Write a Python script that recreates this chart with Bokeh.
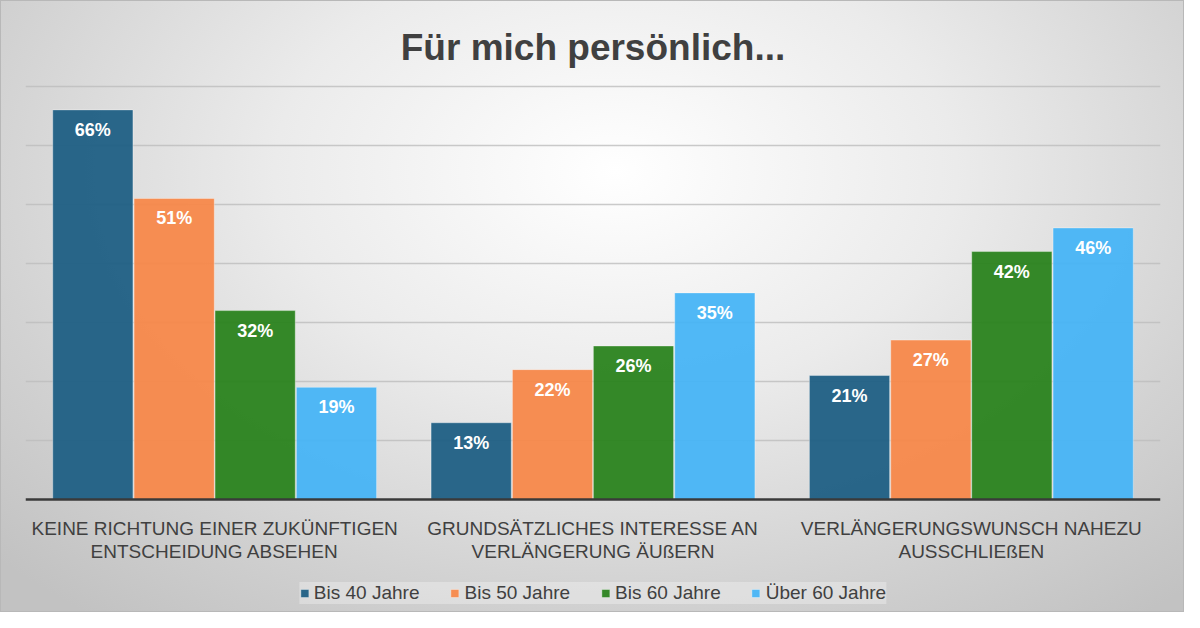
from bokeh.plotting import figure
from bokeh.models import (ColumnDataSource, FactorRange, Range1d, LabelSet, Legend,
                          LegendItem, CategoricalAxis)
from bokeh.transform import dodge
from bokeh.core.properties import value
from bokeh.embed import file_html
from bokeh.resources import INLINE

# === Data ===
# category labels, split in the two lines shown under the axis
categories = [
    "KEINE RICHTUNG EINER ZUKÜNFTIGEN",
    "GRUNDSÄTZLICHES INTERESSE AN",
    "VERLÄNGERUNGSWUNSCH NAHEZU",
]
categories_line2 = [
    "ENTSCHEIDUNG ABSEHEN",
    "VERLÄNGERUNG ÄUßERN",
    "AUSSCHLIEßEN",
]
series_names = ["Bis 40 Jahre", "Bis 50 Jahre", "Bis 60 Jahre", "Über 60 Jahre"]
bis40 = [66, 13, 21]
bis50 = [51, 22, 27]
bis60 = [32, 26, 42]
ueber60 = [19, 35, 46]

COLORS = ["#1f5f84", "#f7884a", "#2a831d", "#47b4f6"]
TEXT = "#404040"
FONT = "Liberation Sans"

# frame runs to the bottom edge; the part below 0 holds the labels and legend
Y_TOP = 70.3
BARS_PX = 415
FRAME_PX = 528
y_start = -Y_TOP * (FRAME_PX - BARS_PX) / BARS_PX

p = figure(
    x_range=FactorRange(*categories),
    y_range=Range1d(y_start, Y_TOP),
    frame_width=1135,
    frame_height=FRAME_PX,
    output_backend="svg",
    toolbar_location=None,
    min_border_left=25,
    min_border_right=24,
    min_border_top=84,
    min_border_bottom=0,
)
p.background_fill_alpha = 0
p.border_fill_alpha = 0
p.outline_line_color = None
p.styles = {
    "background": "radial-gradient(ellipse 72% 92% at 52% 28%, #ffffff 0%, #ebebeb 40%, #d2d2d2 75%, #c2c2c2 100%)",
    "box-shadow": "inset 0 0 0 1px #b8b8b8",
}

# ---------- Title ----------
p.title.text = "Für mich persönlich..."
p.title.align = "center"
p.title.text_font = FONT
p.title.text_font_size = "37px"
p.title.text_font_style = "bold"
p.title.text_color = TEXT
p.title.standoff = 34

# ---------- Axes / grid ----------
p.yaxis.visible = False
p.xgrid.grid_line_color = None
p.ygrid.ticker = [10, 20, 30, 40, 50, 60, 70]
p.ygrid.grid_line_color = "#bdbdbd"
p.ygrid.grid_line_width = 1.5
p.ygrid.grid_line_alpha = 0.8

p.xaxis.fixed_location = 0
p.xaxis.axis_line_color = "#3a3a3a"
p.xaxis.axis_line_width = 2.5
p.xaxis.major_tick_line_color = None
p.xaxis.minor_tick_line_color = None
p.xaxis.major_label_text_font = FONT
p.xaxis.major_label_text_font_size = "19px"
p.xaxis.major_label_text_color = TEXT
p.xaxis.major_label_standoff = 12

# second line of the category labels
p.extra_x_ranges = {"line2": FactorRange(*categories_line2)}
ax2 = CategoricalAxis(x_range_name="line2", fixed_location=0)
ax2.axis_line_color = None
ax2.major_tick_line_color = None
ax2.minor_tick_line_color = None
ax2.major_label_text_font = FONT
ax2.major_label_text_font_size = "19px"
ax2.major_label_text_color = TEXT
ax2.major_label_standoff = 35
p.add_layout(ax2, "below")

# ---------- Bars ----------
source = ColumnDataSource(dict(
    cat=categories,
    bis40=bis40, bis50=bis50, bis60=bis60, ueber60=ueber60,
    bis40_t=[f"{v}%" for v in bis40],
    bis50_t=[f"{v}%" for v in bis50],
    bis60_t=[f"{v}%" for v in bis60],
    ueber60_t=[f"{v}%" for v in ueber60],
))

cols = ["bis40", "bis50", "bis60", "ueber60"]
offsets = [-0.322, -0.107, 0.107, 0.322]
items = []
for col, off, color, name in zip(cols, offsets, COLORS, series_names):
    r = p.vbar(x=dodge("cat", off, range=p.x_range), top=col, bottom=0, width=0.212,
               source=source, fill_color=color, fill_alpha=0.95,
               line_color="#ffffff", line_alpha=0.35, line_width=1)
    items.append(LegendItem(label=name, renderers=[r]))
    labels = LabelSet(x=dodge("cat", off, range=p.x_range), y=col, text=col + "_t",
                      source=source, y_offset=-20, text_align="center",
                      text_baseline="middle", text_color="white",
                      text_font=value(FONT), text_font_size="18px",
                      text_font_style="bold")
    p.add_layout(labels)

# ---------- Legend ----------
legend = Legend(items=items, orientation="horizontal", location="bottom")
legend.background_fill_color = "#ffffff"
legend.background_fill_alpha = 0.3
legend.border_line_color = None
legend.label_text_font = FONT
legend.label_text_font_size = "19px"
legend.label_text_color = TEXT
legend.glyph_width = 10
legend.glyph_height = 10
legend.label_standoff = 5
legend.spacing = 30
legend.padding = 7
legend.margin = 8
p.add_layout(legend, "center")

open("out.html", "w").write(file_html(p, INLINE))
